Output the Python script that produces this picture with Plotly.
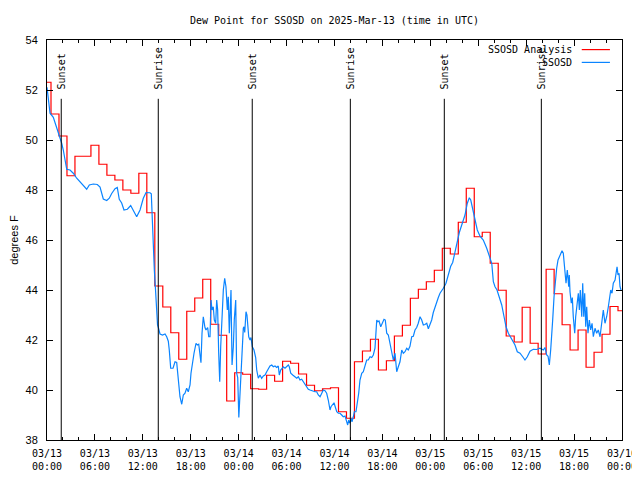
import pandas as pd
import plotly.graph_objects as go

START = pd.Timestamp("2025-03-13 00:00")

title_text = "Dew Point for SSOSD on 2025-Mar-13 (time in UTC)"
y_title = "degrees F"
series_names = ["SSOSD Analysis", "SSOSD"]

# Hourly analysis values (hours after 2025-03-13 00:00 UTC)
analysis_hours = list(range(73))
analysis_values = [
    52.31, 51.04, 50.16, 48.57, 49.35, 49.35, 49.79, 49.03, 48.59, 48.40,
    48.00, 47.87, 48.67, 47.09, 44.16, 43.32, 42.29, 41.23, 43.15, 43.68,
    44.43, 42.63, 42.19, 39.56, 40.69, 40.63, 40.05, 40.03, 40.59, 40.35,
    41.15, 41.07, 40.64, 40.19, 39.97, 40.05, 40.09, 39.13, 38.87, 41.13,
    41.56, 42.03, 40.80, 41.17, 42.16, 42.59, 43.67, 44.03, 44.33, 44.79,
    45.67, 45.44, 46.71, 48.07, 46.13, 46.31, 45.07, 43.99, 42.16, 41.92,
    43.31, 41.87, 41.44, 44.83, 43.85, 42.61, 41.60, 42.40, 40.91, 41.51,
    42.23, 43.34, 43.17,
]

# Station observations (hours after 2025-03-13 00:00 UTC)
obs_hours = [
    0.00, 0.16, 0.38, 0.79, 1.21, 1.63, 1.84, 2.04, 2.25, 2.47,
    2.88, 3.29, 3.72, 4.13, 4.55, 4.97, 5.30, 5.80, 6.30, 6.64,
    7.05, 7.48, 7.80, 8.10, 8.52, 8.80, 9.05, 9.35, 9.64, 10.06,
    10.48, 10.81, 11.23, 11.65, 12.06, 12.40, 12.90, 13.06, 13.15, 13.24,
    13.31, 13.44, 13.59, 13.74, 13.84, 13.94, 14.15, 14.46, 14.78, 14.99,
    15.19, 15.31, 15.49, 15.78, 16.03, 16.24, 16.44, 16.65, 16.87, 17.07,
    17.28, 17.49, 17.69, 17.91, 18.03, 18.19, 18.41, 18.66, 18.82, 19.00,
    19.16, 19.28, 19.41, 19.57, 19.78, 19.91, 20.12, 20.25, 20.41, 20.54,
    20.66, 20.82, 20.95, 21.12, 21.25, 21.37, 21.50, 21.63, 21.75, 21.91,
    22.08, 22.25, 22.41, 22.58, 22.70, 22.83, 22.92, 23.04, 23.17, 23.33,
    23.45, 23.63, 23.75, 23.88, 24.02, 24.13, 24.26, 24.42, 24.58, 24.67,
    24.76, 24.92, 25.04, 25.26, 25.42, 25.54, 25.71, 25.92, 26.13, 26.26,
    26.46, 26.67, 26.88, 27.09, 27.30, 27.51, 27.71, 27.92, 28.14, 28.34,
    28.55, 28.76, 28.96, 29.09, 29.26, 29.39, 29.59, 29.80, 30.02, 30.22,
    30.34, 30.52, 30.77, 31.05, 31.27, 31.47, 31.68, 31.89, 32.09, 32.31,
    32.52, 32.72, 32.93, 33.15, 33.35, 33.56, 33.77, 33.97, 34.19, 34.40,
    34.60, 34.81, 35.02, 35.22, 35.44, 35.56, 35.73, 35.94, 36.06, 36.28,
    36.48, 36.69, 36.90, 37.10, 37.32, 37.53, 37.65, 37.78, 37.94, 38.07,
    38.19, 38.36, 38.48, 38.69, 38.86, 39.03, 39.19, 39.41, 39.61, 39.82,
    40.03, 40.23, 40.45, 40.66, 40.86, 41.07, 41.29, 41.41, 41.57, 41.79,
    41.99, 42.20, 42.36, 42.54, 42.74, 42.95, 43.16, 43.36, 43.58, 43.79,
    43.99, 44.20, 44.42, 44.62, 44.83, 45.04, 45.24, 45.45, 45.67, 45.87,
    46.08, 46.29, 46.49, 46.71, 46.92, 47.12, 47.33, 47.55, 47.75, 47.96,
    48.17, 48.37, 48.58, 48.80, 49.00, 49.21, 49.42, 49.63, 49.96, 50.25,
    50.55, 50.80, 51.09, 51.38, 51.63, 51.93, 52.05, 52.34, 52.63, 52.88,
    53.06, 53.31, 53.59, 53.88, 54.22, 54.63, 55.06, 55.47, 55.69, 55.89,
    56.10, 56.35, 56.64, 56.94, 57.23, 57.48, 57.77, 58.19, 58.60, 58.89,
    59.23, 59.57, 59.85, 60.14, 60.48, 60.89, 61.32, 61.73, 62.15, 62.36,
    62.57, 62.74, 62.90, 63.07, 63.20, 63.32, 63.49, 63.61, 63.82, 63.99,
    64.15, 64.33, 64.49, 64.65, 64.78, 64.90, 64.99, 65.15, 65.33, 65.40,
    65.49, 65.65, 65.78, 65.90, 66.08, 66.20, 66.37, 66.53, 66.66, 66.78,
    66.96, 67.08, 67.21, 67.33, 67.46, 67.58, 67.74, 67.91, 68.08, 68.25,
    68.41, 68.62, 68.83, 69.03, 69.25, 69.46, 69.66, 69.87, 70.08, 70.29,
    70.41, 70.59, 70.75, 70.91, 71.13, 71.25, 71.38, 71.50, 71.63, 71.75,
    71.88,
]
obs_values = [
    52.11, 51.67, 51.07, 50.91, 50.53, 50.07, 49.87, 49.60, 49.20, 48.83,
    48.80, 48.67, 48.47, 48.33, 48.20, 48.03, 48.20, 48.24, 48.22, 48.12,
    47.64, 47.58, 47.67, 47.86, 48.05, 48.10, 47.63, 47.48, 47.20, 47.23,
    47.38, 47.20, 46.93, 47.20, 47.67, 47.90, 47.89, 47.85, 46.90, 46.13,
    45.60, 44.80, 44.00, 43.00, 42.60, 42.50, 42.24, 42.20, 42.24, 42.13,
    41.95, 41.60, 40.87, 40.87, 41.13, 41.10, 40.40, 39.73, 39.43, 39.80,
    39.87, 40.07, 39.93, 40.20, 40.67, 41.07, 41.47, 41.87, 41.80, 41.83,
    41.33, 41.09, 42.27, 42.93, 42.50, 42.40, 42.50, 42.13, 42.13, 43.60,
    43.20, 43.33, 42.80, 42.67, 43.60, 43.20, 41.47, 40.33, 41.73, 43.07,
    44.00, 44.47, 44.13, 43.20, 43.73, 42.27, 43.20, 44.00, 41.00, 41.73,
    42.80, 43.60, 40.67, 40.50, 38.90, 39.60, 40.80, 42.00, 42.47, 42.53,
    42.30, 43.13, 43.00, 42.13, 42.00, 42.10, 41.73, 41.60, 41.30, 40.80,
    40.47, 40.60, 40.47, 40.56, 40.60, 40.73, 40.87, 40.96, 41.00, 40.93,
    40.96, 40.90, 40.96, 40.60, 40.80, 40.87, 40.93, 40.87, 40.93, 41.00,
    40.93, 40.67, 40.60, 40.53, 40.47, 40.53, 40.40, 40.43, 40.33, 40.27,
    40.13, 40.03, 40.00, 39.97, 39.93, 39.93, 39.93, 39.80, 39.73, 39.87,
    40.00, 39.97, 39.87, 39.60, 39.20, 39.33, 39.40, 39.49, 39.36, 39.13,
    39.07, 39.07, 39.00, 38.93, 38.96, 38.73, 38.60, 38.80, 38.67, 38.87,
    38.73, 38.93, 39.13, 39.13, 39.47, 39.87, 40.40, 40.67, 40.73, 40.93,
    41.20, 41.20, 41.33, 41.30, 41.40, 41.67, 42.80, 42.73, 42.76, 42.53,
    42.67, 42.83, 42.80, 42.27, 42.20, 41.87, 41.47, 41.20, 41.47, 40.73,
    40.93, 41.13, 41.60, 41.47, 41.53, 41.67, 41.60, 41.75, 42.13, 42.15,
    42.40, 42.50, 42.67, 42.93, 42.80, 42.60, 42.62, 42.67, 42.45, 42.60,
    42.80, 43.10, 43.30, 43.60, 43.70, 43.87, 43.95, 44.07, 44.27, 44.60,
    44.95, 45.10, 45.50, 46.00, 46.30, 46.60, 46.73, 47.00, 47.47, 47.69,
    47.60, 47.20, 46.80, 46.40, 46.15, 46.00, 45.67, 45.33, 45.07, 44.33,
    44.13, 44.00, 43.73, 43.40, 42.93, 42.53, 42.27, 42.00, 41.80, 41.53,
    41.47, 41.33, 41.20, 41.33, 41.55, 41.63, 41.62, 41.67, 41.60, 41.70,
    41.40, 41.35, 41.00, 41.60, 42.13, 42.80, 43.73, 44.27, 44.87, 45.20,
    45.33, 45.40, 45.57, 45.47, 44.93, 44.70, 44.27, 44.80, 44.13, 44.60,
    43.93, 43.47, 43.70, 42.93, 42.27, 42.93, 43.60, 43.87, 43.20, 44.00,
    42.93, 44.27, 42.93, 43.87, 42.53, 43.33, 42.27, 42.80, 42.40, 42.67,
    42.13, 42.47, 42.27, 42.40, 42.13, 42.67, 43.20, 42.67, 42.93, 43.33,
    43.60, 44.00, 43.87, 44.27, 44.40, 44.80, 44.93, 44.60, 44.67, 44.13,
    44.00,
]

sun_labels = ["Sunset", "Sunrise", "Sunset", "Sunrise", "Sunset", "Sunrise"]
sun_times = ["2025-03-13 01:47", "2025-03-13 13:56", "2025-03-14 01:42",
             "2025-03-14 13:59", "2025-03-15 01:45", "2025-03-15 13:54"]

x_tick_times = list(pd.date_range("2025-03-13 00:00", "2025-03-16 00:00", freq="6h"))
x_tick_labels = [t.strftime("%m/%d") + "<br>" + t.strftime("%H:%M") for t in x_tick_times]
y_ticks = [38, 40, 42, 44, 46, 48, 50, 52, 54]

MONO = "DejaVu Sans Mono"
SANS = "Liberation Sans"
RED = "#ff0000"
BLUE = "#0a84ff"

# The page body adds an 8px offset; the figure is sized so the plot area
# lands at the reference position and the last tick label is not clipped.
FIG_W, FIG_H = 640, 464


def to_time(hours):
    return [START + pd.Timedelta(hours=h) for h in hours]


fig = go.Figure()
fig.add_trace(go.Scatter(x=to_time(analysis_hours), y=analysis_values, mode="lines",
                         name=series_names[0], showlegend=False,
                         line=dict(color=RED, width=1.2, shape="hvh")))
fig.add_trace(go.Scatter(x=to_time(obs_hours), y=obs_values, mode="lines",
                         name=series_names[1], showlegend=False,
                         line=dict(color=BLUE, width=1.2)))

shapes = []
annotations = []
for lab, t in zip(sun_labels, sun_times):
    shapes.append(dict(type="line", xref="x", yref="paper", x0=t, x1=t, y0=0, y1=0.853,
                       line=dict(color="black", width=1)))
    annotations.append(dict(text=lab, x=t, y=0.872, xref="x", yref="paper", textangle=-90,
                            xanchor="center", yanchor="bottom", showarrow=False,
                            font=dict(family=MONO, size=10, color="black")))

# custom legend (text left of the sample line, gnuplot style)
legend_rows = [(series_names[0], RED, 0.976), (series_names[1], BLUE, 0.944)]
for name, col, yy in legend_rows:
    annotations.append(dict(text=name, x=0.917, y=yy, xref="paper", yref="paper",
                            xanchor="right", yanchor="middle", showarrow=False,
                            font=dict(family=MONO, size=10, color="black")))
    shapes.append(dict(type="line", xref="paper", yref="paper", x0=0.930, x1=0.979,
                       y0=yy, y1=yy, line=dict(color=col, width=1.2)))

fig.update_layout(
    width=FIG_W, height=FIG_H,
    margin=dict(l=39, r=26, t=32, b=32, autoexpand=False),
    paper_bgcolor="white", plot_bgcolor="white",
    title=dict(text=title_text, x=0.5, xref="paper", xanchor="center",
               y=1 - 12 / FIG_H, yanchor="middle", automargin=False,
               font=dict(family=MONO, size=10, color="black")),
    shapes=shapes, annotations=annotations,
    showlegend=False,
)
fig.update_xaxes(
    type="date", range=[START, START + pd.Timedelta(hours=72)],
    tickmode="array", tickvals=x_tick_times, ticktext=x_tick_labels,
    ticks="inside", ticklen=6, tickcolor="black", tickwidth=1,
    showline=True, linecolor="black", linewidth=1, mirror="allticks",
    showgrid=False, zeroline=False, ticklabelstandoff=4, automargin=False,
    ticklabeloverflow="allow",
    tickfont=dict(family=MONO, size=10, color="black"),
    minor=dict(ticks="inside", ticklen=3, tickcolor="black", dtick=2 * 3600 * 1000,
               tick0="2025-03-13 00:00", showgrid=False),
)
fig.update_yaxes(
    range=[38, 54], tickmode="array", tickvals=y_ticks,
    ticks="inside", ticklen=6, tickcolor="black", tickwidth=1,
    showline=True, linecolor="black", linewidth=1, mirror="allticks",
    showgrid=False, zeroline=False, ticklabelstandoff=6, automargin=False,
    tickfont=dict(family=SANS, size=11, color="black"),
    title=dict(text=y_title, font=dict(family=SANS, size=11, color="black"), standoff=20),
)

fig.write_html("out.html", default_width=f"{FIG_W}px", default_height=f"{FIG_H}px")
